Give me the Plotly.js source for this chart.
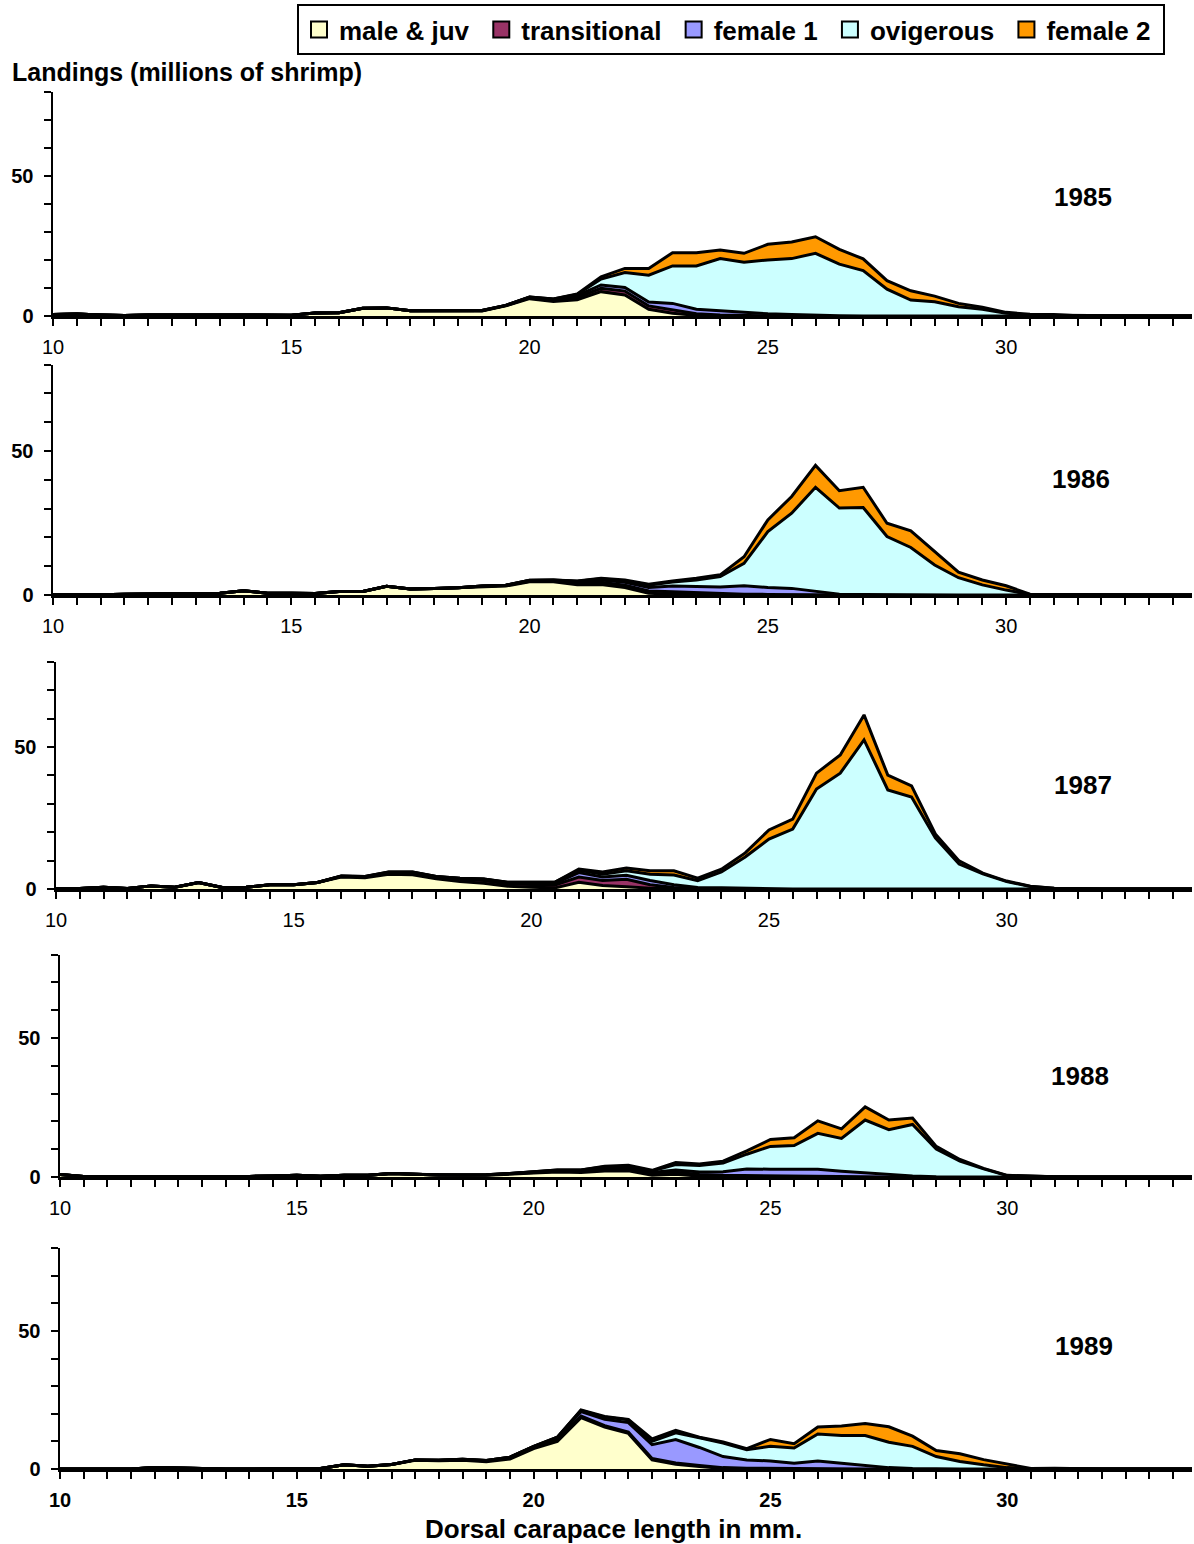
<!DOCTYPE html>
<html>
<head>
<meta charset="utf-8">
<script src="https://cdn.plot.ly/plotly-3.0.1.min.js"></script>
<style>
  body { margin: 0; background: #fff; }
  #chart-container { width: 1194px; height: 1544px; }
</style>
</head>
<body>
<div id="chart-container"></div>
<script>
// carapace length classes, mm
const lengths = [10, 10.5, 11, 11.5, 12, 12.5, 13, 13.5, 14, 14.5,
    15, 15.5, 16, 16.5, 17, 17.5, 18, 18.5, 19, 19.5,
    20, 20.5, 21, 21.5, 22, 22.5, 23, 23.5, 24, 24.5,
    25, 25.5, 26, 26.5, 27, 27.5, 28, 28.5, 29, 29.5,
    30, 30.5, 31, 31.5, 32, 32.5, 33, 33.5, 34]

const years = ['1985', '1986', '1987', '1988', '1989']
const seriesNames = ['male & juv', 'transitional', 'female 1', 'ovigerous', 'female 2']
const seriesColors = ['#FFFFCC', '#993366', '#9999FF', '#CCFFFF', '#FF9900']
const xTickLabels = ['10', '15', '20', '25', '30']

// landings, millions of shrimp
const male1985 = [0.5, 0.7, 0.4, 0.2, 0.4, 0.4, 0.4, 0.2, 0.4, 0.2, 0.3, 1.1, 1.2, 2.8, 2.9, 1.9, 1.9, 1.9, 1.8, 3.6, 6.2, 5.2, 5.8, 8.7, 7.5, 2.4, 1.0, 0.2, 0.1, 0, 0, 0, 0, 0, 0, 0, 0, 0, 0, 0, 0, 0, 0, 0, 0, 0, 0, 0, 0]
const trans1985 = [0, 0, 0, 0, 0, 0, 0, 0, 0, 0, 0, 0, 0, 0, 0, 0, 0, 0, 0.1, 0.1, 0.3, 0.4, 0.8, 1.2, 1.4, 1.2, 1.1, 0.6, 0.3, 0.2, 0.1, 0.1, 0, 0, 0, 0, 0, 0, 0, 0, 0, 0, 0, 0, 0, 0, 0, 0, 0]
const fem1_1985 = [0, 0, 0, 0, 0, 0, 0, 0, 0, 0, 0, 0, 0, 0, 0, 0, 0, 0, 0.1, 0.1, 0.2, 0.3, 0.7, 1.2, 1.3, 1.4, 2.4, 1.6, 1.4, 1.0, 0.7, 0.4, 0.2, 0.1, 0, 0, 0, 0, 0, 0, 0, 0, 0, 0, 0, 0, 0, 0, 0]
const ovig1985 = [0, 0, 0, 0, 0, 0, 0, 0, 0, 0, 0, 0, 0, 0, 0, 0, 0, 0, 0, 0, 0.1, 0.2, 0.4, 2.1, 5.3, 9.6, 13.4, 15.5, 18.7, 18.0, 19.2, 20.0, 22.2, 18.4, 16.2, 9.6, 5.7, 5.1, 3.3, 2.4, 1.0, 0.4, 0.3, 0.1, 0, 0, 0, 0, 0]
const fem2_1985 = [0, 0, 0, 0, 0, 0, 0, 0, 0, 0, 0, 0, 0, 0, 0, 0, 0, 0, 0, 0, 0, 0, 0.2, 0.8, 1.5, 2.4, 4.7, 4.7, 3.1, 3.2, 5.6, 5.9, 5.9, 5.3, 4.2, 3.0, 3.3, 2.0, 1.2, 0.7, 0.3, 0.2, 0.2, 0, 0, 0, 0, 0, 0]

const male1986 = [0.2, 0.1, 0.1, 0.3, 0.4, 0.4, 0.6, 0.6, 1.5, 0.6, 0.6, 0.5, 1.2, 1.2, 3.0, 2.1, 2.3, 2.5, 2.8, 3.1, 4.6, 4.6, 3.6, 3.6, 2.6, 0.6, 0.3, 0.2, 0.1, 0, 0, 0, 0, 0, 0, 0, 0, 0, 0, 0, 0, 0, 0, 0, 0, 0, 0, 0, 0]
const trans1986 = [0, 0, 0, 0, 0, 0, 0, 0, 0, 0, 0, 0, 0, 0, 0, 0, 0, 0, 0.2, 0.2, 0.2, 0.3, 0.5, 0.8, 0.8, 0.8, 0.8, 0.6, 0.4, 0.3, 0.2, 0.1, 0, 0, 0, 0, 0, 0, 0, 0, 0, 0, 0, 0, 0, 0, 0, 0, 0]
const fem1_1986 = [0, 0, 0, 0, 0, 0, 0, 0, 0, 0, 0, 0, 0, 0, 0, 0, 0, 0, 0.1, 0.1, 0.2, 0.2, 0.5, 0.8, 1.0, 1.2, 2.0, 2.2, 2.3, 2.9, 2.4, 2.2, 1.4, 0.3, 0.2, 0.1, 0, 0, 0, 0, 0, 0, 0, 0, 0, 0, 0, 0, 0]
const ovig1986 = [0, 0, 0, 0, 0, 0, 0, 0, 0, 0, 0, 0, 0, 0, 0, 0, 0, 0, 0, 0, 0.1, 0.1, 0.2, 0.4, 0.5, 0.8, 1.4, 2.2, 3.6, 7.8, 19.4, 26.1, 36.0, 29.9, 30.2, 20.2, 16.5, 10.4, 6.0, 3.5, 1.7, 0.2, 0.1, 0.1, 0, 0, 0, 0, 0]
const fem2_1986 = [0, 0, 0, 0, 0, 0, 0, 0, 0, 0, 0, 0, 0, 0, 0, 0, 0, 0, 0, 0, 0, 0, 0.1, 0.2, 0.3, 0.3, 0.4, 0.6, 0.6, 2.3, 4.1, 5.8, 7.6, 6.0, 7.0, 4.6, 5.8, 4.7, 1.9, 1.7, 1.5, 0.1, 0.1, 0, 0, 0, 0, 0, 0]

const male1987 = [0.2, 0.2, 0.6, 0.2, 1.1, 0.6, 2.3, 0.5, 0.6, 1.5, 1.5, 2.3, 4.2, 4.0, 5.2, 5.0, 3.6, 2.6, 2.0, 1.0, 0.6, 0.4, 2.4, 1.2, 0.8, 0.3, 0.1, 0, 0, 0, 0, 0, 0, 0, 0, 0, 0, 0, 0, 0, 0, 0, 0, 0, 0, 0, 0, 0, 0]
const trans1987 = [0, 0, 0, 0, 0, 0, 0, 0, 0, 0, 0, 0, 0.2, 0.2, 0.4, 0.5, 0.5, 0.8, 1.0, 0.8, 1.0, 1.0, 1.8, 1.8, 2.6, 1.2, 0.4, 0.1, 0.1, 0, 0, 0, 0, 0, 0, 0, 0, 0, 0, 0, 0, 0, 0, 0, 0, 0, 0, 0, 0]
const fem1_1987 = [0, 0, 0, 0, 0, 0, 0, 0, 0, 0, 0, 0, 0.1, 0.1, 0.2, 0.3, 0.2, 0.3, 0.4, 0.4, 0.5, 0.6, 1.6, 1.2, 1.4, 1.5, 1.0, 0.4, 0.3, 0.2, 0.1, 0, 0, 0, 0, 0, 0, 0, 0, 0, 0, 0, 0, 0, 0, 0, 0, 0, 0]
const ovig1987 = [0, 0, 0, 0, 0, 0, 0, 0, 0, 0, 0, 0, 0.1, 0.1, 0.2, 0.2, 0.1, 0.1, 0.1, 0.2, 0.3, 0.4, 0.8, 1.0, 1.6, 2.2, 3.4, 2.4, 5.6, 11.1, 17.5, 21.1, 35.2, 40.8, 52.5, 34.9, 32.4, 18.0, 8.8, 5.3, 2.6, 0.9, 0.3, 0.1, 0, 0, 0, 0, 0]
const fem2_1987 = [0, 0, 0, 0, 0, 0, 0, 0, 0, 0, 0, 0, 0, 0, 0, 0, 0, 0, 0, 0, 0, 0, 0.4, 0.8, 1.0, 1.2, 1.5, 0.9, 1.0, 1.4, 3.2, 3.5, 5.6, 6.4, 8.8, 5.2, 3.9, 1.4, 1.1, 0.3, 0.2, 0.1, 0, 0, 0, 0, 0, 0, 0]

const male1988 = [0.9, 0.2, 0.1, 0.1, 0.1, 0.1, 0.3, 0.1, 0.2, 0.4, 0.6, 0.3, 0.6, 0.6, 1.3, 1.0, 0.7, 0.6, 0.6, 1.1, 1.4, 1.8, 1.6, 2.2, 2.2, 0.6, 1.0, 0.3, 0.1, 0, 0, 0, 0, 0, 0, 0, 0, 0, 0, 0, 0, 0, 0, 0, 0, 0, 0, 0, 0]
const trans1988 = [0, 0, 0, 0, 0, 0, 0, 0, 0, 0, 0, 0, 0, 0, 0, 0, 0, 0.1, 0.1, 0.1, 0.2, 0.3, 0.4, 0.6, 0.6, 0.5, 0.7, 0.6, 0.5, 0.5, 0.3, 0.2, 0.1, 0, 0, 0, 0, 0, 0, 0, 0, 0, 0, 0, 0, 0, 0, 0, 0]
const fem1_1988 = [0, 0, 0, 0, 0, 0, 0, 0, 0, 0, 0, 0, 0, 0, 0, 0, 0, 0, 0.1, 0.1, 0.2, 0.2, 0.3, 0.5, 0.6, 0.5, 0.8, 0.9, 1.3, 2.4, 2.5, 2.7, 2.7, 2.1, 1.5, 0.9, 0.4, 0.1, 0, 0, 0, 0, 0, 0, 0, 0, 0, 0, 0]
const ovig1988 = [0, 0, 0, 0, 0, 0, 0, 0, 0, 0, 0, 0, 0, 0, 0, 0, 0, 0, 0, 0, 0.1, 0.2, 0.2, 0.4, 0.5, 0.6, 2.0, 2.3, 3.1, 5.3, 8.2, 8.4, 12.9, 11.8, 19.0, 16.1, 18.5, 10.0, 5.7, 2.9, 0.5, 0.2, 0.1, 0, 0, 0, 0, 0, 0]
const fem2_1988 = [0, 0, 0, 0, 0, 0, 0, 0, 0, 0, 0, 0, 0, 0, 0, 0, 0, 0, 0, 0, 0, 0, 0, 0.2, 0.3, 0.2, 0.7, 0.6, 0.7, 1.2, 2.5, 2.8, 4.5, 3.4, 4.7, 3.5, 2.3, 0.9, 0.6, 0.2, 0.1, 0.1, 0, 0, 0, 0, 0, 0, 0]

const male1989 = [0, 0, 0, 0, 0.5, 0.3, 0, 0, 0, 0.2, 0.2, 0.2, 1.5, 1.0, 1.6, 3.2, 3.0, 3.2, 2.6, 3.6, 7.4, 10.0, 18.6, 15.2, 12.9, 3.3, 1.7, 0.9, 0.2, 0, 0, 0, 0, 0, 0, 0, 0, 0, 0, 0, 0, 0, 0, 0, 0, 0, 0, 0, 0]
const trans1989 = [0, 0, 0, 0, 0, 0, 0, 0, 0, 0, 0, 0, 0, 0, 0, 0.1, 0.2, 0.2, 0.3, 0.4, 0.3, 0.5, 0.6, 0.5, 0.5, 0.5, 0.5, 0.4, 0.3, 0.3, 0.2, 0.1, 0.1, 0, 0, 0, 0, 0, 0, 0, 0, 0, 0, 0, 0, 0, 0, 0, 0]
const fem1_1989 = [0, 0, 0, 0, 0, 0, 0, 0, 0, 0, 0, 0, 0, 0, 0, 0, 0, 0.1, 0.2, 0.3, 0.4, 0.8, 1.6, 2.3, 3.4, 5.0, 8.5, 6.5, 4.0, 3.0, 2.7, 2.0, 2.8, 2.1, 1.2, 0.5, 0.2, 0, 0, 0, 0, 0, 0, 0, 0, 0, 0, 0, 0]
const ovig1989 = [0, 0, 0, 0, 0, 0, 0, 0, 0, 0, 0, 0, 0, 0, 0, 0, 0, 0, 0, 0, 0.1, 0.2, 0.4, 0.8, 1.0, 1.2, 2.4, 3.5, 4.9, 3.7, 5.3, 5.5, 9.8, 10.0, 10.9, 9.2, 8.0, 4.5, 2.7, 1.5, 0.5, 0.1, 0.2, 0.1, 0, 0, 0, 0, 0]
const fem2_1989 = [0, 0, 0, 0, 0, 0, 0, 0, 0, 0, 0, 0, 0, 0, 0, 0, 0, 0, 0, 0, 0, 0, 0.2, 0.2, 0.2, 0.9, 0.9, 0.2, 0.4, 0.4, 2.5, 1.6, 2.5, 3.5, 4.4, 5.6, 3.7, 2.2, 2.8, 1.9, 1.2, 0.1, 0.1, 0, 0, 0, 0, 0, 0]

const yearSeries = [
    [male1985, trans1985, fem1_1985, ovig1985, fem2_1985],
    [male1986, trans1986, fem1_1986, ovig1986, fem2_1986],
    [male1987, trans1987, fem1_1987, ovig1987, fem2_1987],
    [male1988, trans1988, fem1_1988, ovig1988, fem2_1988],
    [male1989, trans1989, fem1_1989, ovig1989, fem2_1989]
]

// page geometry in pixels (1194 x 1544)
const W = 1194, H = 1544
const panelLeft = [53, 53, 56, 60, 60]
const panelRight = 1192
const panelBottom = [316, 595, 889, 1177, 1469]
const panelTop = [92, 364.6, 661.8, 954.6, 1248.2]
const yearPos = [[1083, 197], [1081, 479], [1083, 785], [1080, 1076], [1084, 1346]]

const FONT = 'Arial, "Liberation Sans", sans-serif'

function DrawChart() {
    let data = []

    years.forEach((yr, p) => {
        const suf = p === 0 ? '' : String(p + 1)
        yearSeries[p].forEach((vals, s) => {
            data.push({
                x: lengths,
                y: vals,
                xaxis: 'x' + suf,
                yaxis: 'y' + suf,
                type: 'scatter',
                mode: 'lines',
                stackgroup: 'g' + yr,
                name: seriesNames[s],
                fillcolor: seriesColors[s],
                line: { color: 'black', width: 3 },
                showlegend: false,
                hoverinfo: 'skip'
            })
        })
    })

    // legend entries (square swatches); trailing nbsp widens the spacing
    seriesNames.forEach((nm, s) => {
        data.push({
            x: [null],
            y: [null],
            type: 'scatter',
            mode: 'markers',
            name: nm + '\u00a0',
            marker: { symbol: 'square', size: 16, color: seriesColors[s], line: { color: 'black', width: 2 } },
            showlegend: true,
            hoverinfo: 'skip'
        })
    })

    let layout = {
        width: W,
        height: H,
        margin: { l: 0, r: 0, t: 0, b: 0 },
        paper_bgcolor: 'white',
        plot_bgcolor: 'white',
        font: { family: FONT, color: 'black' },
        showlegend: true,
        legend: {
            orientation: 'h',
            traceorder: 'normal',
            x: 297 / W,
            y: 1 - 4 / H,
            xanchor: 'left',
            yanchor: 'top',
            bordercolor: 'black',
            borderwidth: 2,
            bgcolor: 'white',
            itemsizing: 'trace',
            font: { family: FONT, size: 26, weight: 'bold', color: 'black' }
        },
        annotations: [{
            xref: 'paper', yref: 'paper',
            x: 10 / W, y: 1 - 72 / H,
            xanchor: 'left', yanchor: 'middle',
            text: 'Landings (millions of shrimp)',
            showarrow: false,
            font: { family: FONT, size: 25, weight: 'bold' }
        }, {
            xref: 'paper', yref: 'paper',
            x: 613 / W, y: 1 - 1529 / H,
            xanchor: 'center', yanchor: 'middle',
            text: 'Dorsal carapace length in mm.',
            showarrow: false,
            font: { family: FONT, size: 26, weight: 'bold' }
        }]
    }

    years.forEach((yr, p) => {
        const suf = p === 0 ? '' : String(p + 1)
        layout['xaxis' + suf] = {
            domain: [panelLeft[p] / W, panelRight / W],
            anchor: 'y' + suf,
            range: [10, 33.9],
            tickmode: 'array',
            tickvals: xTickLabels.map(Number),
            ticktext: xTickLabels,
            ticks: 'outside',
            ticklen: 7,
            tickwidth: 2,
            tickcolor: 'black',
            ticklabelstandoff: 4,
            minor: { dtick: 0.5, tick0: 10, ticks: 'outside', ticklen: 7, tickwidth: 2, tickcolor: 'black', showgrid: false },
            showline: true,
            linewidth: 2.5,
            linecolor: 'black',
            showgrid: false,
            zeroline: false,
            fixedrange: true,
            tickfont: { family: FONT, size: 20, weight: p === 4 ? 'bold' : 'normal' }
        }
        layout['yaxis' + suf] = {
            domain: [1 - panelBottom[p] / H, 1 - panelTop[p] / H],
            anchor: 'x' + suf,
            range: [0, 80],
            tick0: 0,
            dtick: 50,
            ticks: 'outside',
            ticklen: 7,
            tickwidth: 2,
            tickcolor: 'black',
            ticklabelstandoff: 6,
            minor: { dtick: 10, ticks: 'outside', ticklen: 7, tickwidth: 2, tickcolor: 'black', showgrid: false },
            showline: true,
            linewidth: 2.5,
            linecolor: 'black',
            showgrid: false,
            zeroline: false,
            fixedrange: true,
            tickfont: { family: FONT, size: 20, weight: 'bold' }
        }
        layout.annotations.push({
            xref: 'paper', yref: 'paper',
            x: yearPos[p][0] / W, y: 1 - yearPos[p][1] / H,
            xanchor: 'center', yanchor: 'middle',
            text: yr,
            showarrow: false,
            font: { family: FONT, size: 26, weight: 'bold' }
        })
    })

    Plotly.newPlot('chart-container', data, layout, { staticPlot: true })
}

DrawChart()
</script>
</body>
</html>
